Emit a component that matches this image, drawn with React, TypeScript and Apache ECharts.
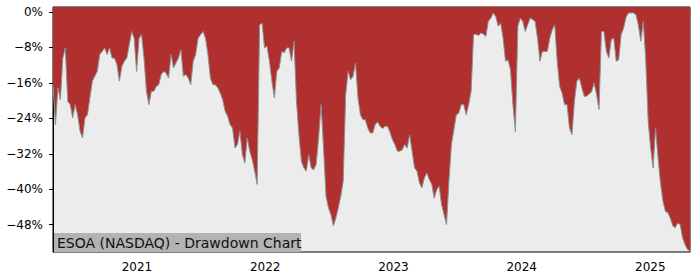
import React, { useEffect, useRef } from "react";
import * as echarts from "echarts";

// Weekly drawdown readings (%), starting 2020-05-07
const START_DATE = "2020-05-07";
const drawdownPart1 = [-16.4, -25.4, -17.1, -19.8, -10.4, -8.1, -20.2, -20.9, -23.9, -20.9, -23.2, -26.9, -28.4, -23.9, -23.2, -19.4, -15.6, -14.5, -13.4, -9.6, -8.9, -8.1, -9.6, -8.1, -10.4, -10.4, -11.9, -15.6, -12.3, -11.1, -10.4, -7.4, -4.4, -5.9, -13.4, -5.9, -5.1, -10.4, -17.9, -20.9, -17.9, -17.9, -16.8, -16.4];
const drawdownPart2 = [-14.1, -13.4, -13.8, -14.9, -9.6, -12.6, -11.5, -10.4, -8.5, -14.5, -14.1, -14.9, -16.4, -11.1, -9.6, -5.9, -5.1, -4.4, -5.9, -9.6, -14.9, -16.4, -16.4, -17.1, -18.3, -19.8, -22.4, -23.5, -25.4, -26.2, -30.7, -29.9, -26.9, -32.2, -34.1, -28.4, -31.4, -33.3, -35.9, -38.9, -2.9, -2.5, -8.1];
const drawdownPart3 = [-7.7, -11.1, -15.6, -19.4, -13.4, -12.6, -8.9, -9.2, -8.1, -8.1, -11.1, -6.6, -20.2, -27.7, -33.7, -35.2, -35.9, -32.2, -35.2, -35.6, -34.4, -28.4, -20.9, -30.7, -41.6, -44.2, -45.7, -48.3, -46.5, -44.2, -41.6, -38.2, -18.6, -13.4, -15.3, -14.5, -11.5, -19.4, -23.2, -24.3, -24.3, -26.2, -27.3];
const drawdownPart4 = [-27.3, -25.4, -24.8, -25.8, -26.3, -25.8, -25.8, -27.1, -28.8, -29.9, -31.4, -31.4, -31.1, -29.9, -30.7, -27.7, -31.4, -35.2, -35.9, -38.6, -39.7, -37.4, -36.3, -37.8, -38.9, -42.0, -40.1, -39.3, -43.5, -45.7, -48.0, -38.0, -29.9, -26.5, -23.2, -22.8, -20.9, -20.9, -23.2, -20.9, -17.9, -5.1, -5.0];
const drawdownPart5 = [-5.3, -4.7, -5.0, -5.5, -2.1, -1.4, -0.2, -1.0, -3.2, -2.5, -5.9, -11.1, -10.8, -13.0, -20.9, -27.0, -3.2, -1.4, -2.1, -4.4, -2.9, -1.4, -1.7, -2.1, -5.9, -11.1, -8.9, -8.9, -8.9, -5.9, -4.0, -2.9, -11.1, -16.8, -18.3, -20.9, -20.9, -26.2, -27.7, -20.2, -15.6, -14.9, -17.1];
const drawdownPart6 = [-19.0, -19.0, -18.5, -18.0, -16.0, -18.6, -22.0, -4.4, -4.4, -8.9, -10.4, -6.2, -5.9, -11.1, -10.8, -5.1, -3.6, -1.2, -0.2, -0.2, -0.2, -0.6, -2.9, -6.6, -2.1, -10.8, -24.7, -30.7, -35.2, -26.2, -32.9, -38.6, -42.7, -45.0, -45.3, -46.5, -48.3, -48.7, -47.6, -48.0, -51.0, -52.5, -53.6, -53.9];

const yTickValues = [0, -8, -16, -24, -32, -40, -48];
const xTickYears = [2021, 2022, 2023, 2024, 2025];
const TITLE = "ESOA (NASDAQ) - Drawdown Chart";

const DAY = 86400000;

export default function App() {
  const ref = useRef<HTMLDivElement>(null);

  useEffect(() => {
    document.body.style.margin = "0";
    if (!ref.current) return;
    const chart = echarts.init(ref.current, undefined, { renderer: "svg" });

    const values = [
      ...drawdownPart1,
      ...drawdownPart2,
      ...drawdownPart3,
      ...drawdownPart4,
      ...drawdownPart5,
      ...drawdownPart6,
    ];
    const start = Date.parse(START_DATE + "T00:00:00Z");
    const data = values.map((v, i) => [start + i * 7 * DAY, v]);
    const end = start + (values.length - 1) * 7 * DAY;
    const yearTicks = xTickYears.map((y) => Date.UTC(y, 0, 1));

    chart.setOption({
      animation: false,
      grid: {
        left: 53,
        right: 10,
        top: 7,
        bottom: 28,
        show: true,
        backgroundColor: "#ececec",
        borderColor: "#000",
        borderWidth: 1,
      },
      xAxis: {
        type: "value",
        min: start,
        max: end,
        splitLine: { show: false },
        axisLine: { show: true, lineStyle: { color: "#000", width: 1 } },
        axisTick: { show: true, length: 4, customValues: yearTicks, lineStyle: { color: "#000" } },
        axisLabel: {
          customValues: yearTicks,
          formatter: (v: number) => String(new Date(v).getUTCFullYear()),
          fontFamily: "DejaVu Sans",
          fontSize: 12,
          color: "#000",
          margin: 9,
        },
      },
      yAxis: {
        type: "value",
        min: -54.16,
        max: 1.13,
        splitLine: { show: false },
        axisLine: { show: true, lineStyle: { color: "#000", width: 1 } },
        axisTick: { show: true, length: 4, customValues: yTickValues, lineStyle: { color: "#000" } },
        axisLabel: {
          customValues: yTickValues,
          formatter: (v: number) => (v === 0 ? "0%" : "\u2212" + Math.abs(v) + "%"),
          fontFamily: "DejaVu Sans",
          fontSize: 12,
          color: "#000",
          margin: 10,
        },
      },
      series: [
        {
          type: "line",
          data,
          symbol: "none",
          lineStyle: { color: "#8a9292", width: 1 },
          areaStyle: { color: "#b03030", opacity: 1, origin: "end" },
          clip: true,
        },
      ],
      graphic: [
        {
          type: "group",
          left: 54,
          top: 233,
          children: [
            {
              type: "rect",
              shape: { x: 0, y: 0, width: 247, height: 19 },
              style: { fill: "#b3b3b3" },
            },
            {
              type: "text",
              x: 3,
              y: 10,
              style: {
                text: TITLE,
                font: "14px 'DejaVu Sans'",
                fill: "#111",
                verticalAlign: "middle",
              },
            },
          ],
        },
      ],
    });

    return () => chart.dispose();
  }, []);

  return <div ref={ref} style={{ width: 700, height: 280 }} />;
}
